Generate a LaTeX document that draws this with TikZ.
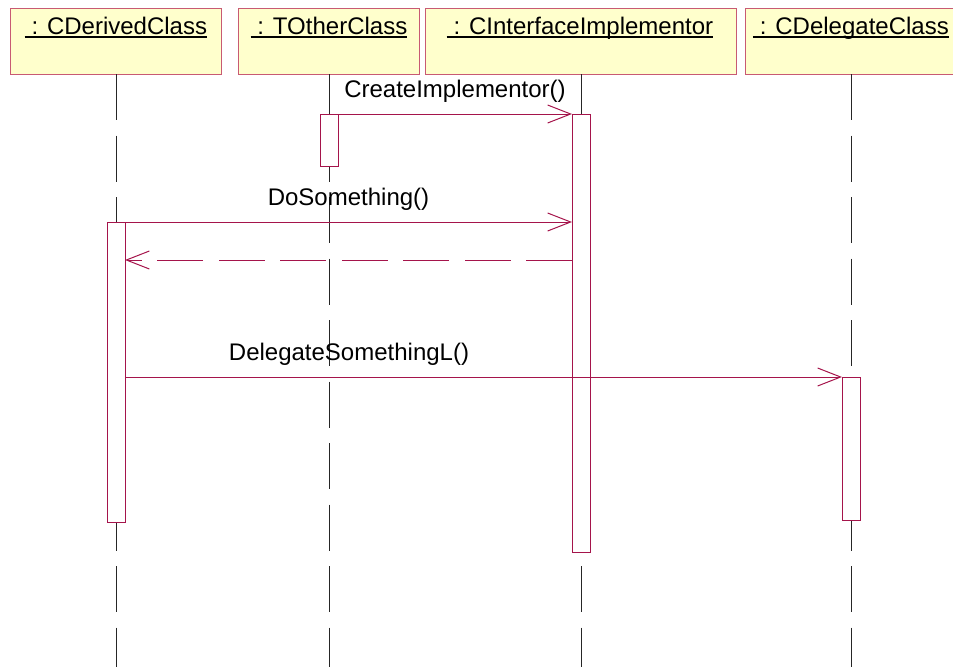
\documentclass[tikz,border=0pt]{standalone}
\usepackage{fontspec}
\setmainfont{Liberation Sans}
\usetikzlibrary{arrows.meta}
\definecolor{msgline}{RGB}{165,20,75}
\definecolor{objedge}{RGB}{200,90,115}
\definecolor{objfill}{RGB}{255,255,204}
\begin{document}
\begin{tikzpicture}[x=1pt,y=-1pt,
  objbox/.style={draw=objedge, fill=objfill, line width=1pt, minimum height=66pt, inner sep=0pt, outer sep=0pt},
  objname/.style={anchor=base, inner sep=0pt, font=\fontsize{24}{28}\selectfont},
  uline/.style={line width=1.2pt},
  lifeline/.style={draw=black!85, line width=0.9pt, dash pattern=on 46pt off 15.5pt},
  activation/.style={draw=msgline, fill=white, line width=1pt, minimum width=18pt, inner sep=0pt, outer sep=0pt, anchor=north},
  msg/.style={draw=msgline, line width=1pt, -{Straight Barb[length=23pt,width=18pt,line width=1pt]}},
  reply/.style={msg, dash pattern=on 46pt off 15.5pt},
  msglabel/.style={anchor=base, inner sep=0pt, yshift=17pt, font=\fontsize{24}{28}\selectfont}
]
\useasboundingbox (0,0) rectangle (953,667);
\clip (0,0) rectangle (953,667);

% object headers
\node[objbox, minimum width=211pt] (o1) at (116,41) {};
\node[objbox, minimum width=181pt] (o2) at (329,41) {};
\node[objbox, minimum width=311pt] (o3) at (581,41) {};
\node[objbox, minimum width=212pt] (o4) at (851,41) {};

\node[objname] (n1) at (116,34) {\ : CDerivedClass};
\node[objname] (n2) at (329,34) {\ : TOtherClass};
\node[objname] (n3) at (580,34) {\ : CInterfaceImplementor};
\node[objname] (n4) at (851,34) {\ : CDelegateClass};
\foreach \n in {n1,n2,n3,n4}
  \draw[uline] ([yshift=-3pt]\n.base west) -- ([yshift=-3pt]\n.base east);

% lifelines
\coordinate (e1) at (116,667);
\coordinate (e2) at (329,667);
\coordinate (e3) at (581,667);
\coordinate (e4) at (851,667);
\draw[lifeline] (o1.south) -- (e1);
\draw[lifeline] (o2.south) -- (e2);
\draw[lifeline] (o3.south) -- (e3);
\draw[lifeline] (o4.south) -- (e4);

% activation bars
\node[activation, minimum height=300pt] (a1) at (116,222) {};
\node[activation, minimum height=52pt] (a2) at (329,114) {};
\node[activation, minimum height=438pt] (a3) at (581,114) {};
\node[activation, minimum height=143pt] (a4) at (851,377) {};

% messages
\draw[msg] (a2.north east) -- (a3.north west)
  node[msglabel, midway] {CreateImplementor()};
\draw[msg] (a1.north east) -- (a1.north east -| a3.west)
  node[msglabel, midway] {DoSomething()};
\coordinate (r) at (0,260);
\draw[reply] (a3.west |- r) -- (a1.east |- r);
\draw[msg] (a1.east |- a4.north) -- (a4.north west);
\node[msglabel] (l4) at (349,377) {DelegateSomethingL()};
\end{tikzpicture}
\end{document}
